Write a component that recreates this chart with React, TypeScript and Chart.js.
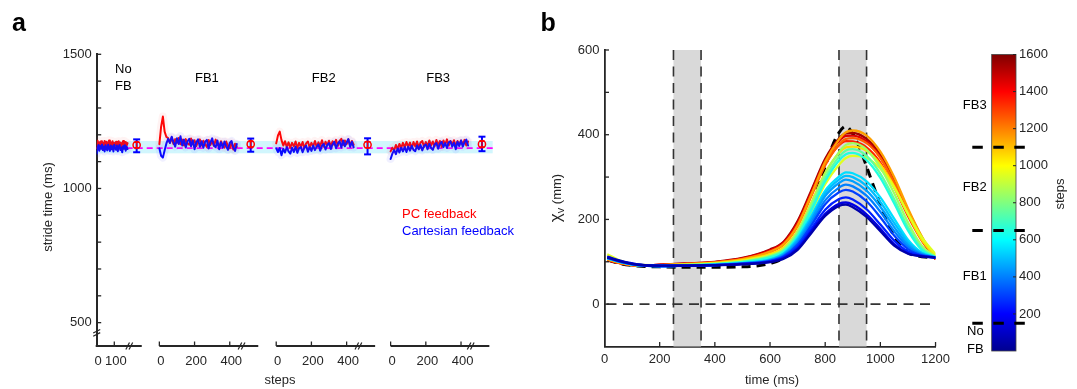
import React, { useEffect, useRef } from 'react';
import { Chart, registerables } from 'chart.js';

Chart.register(...registerables);

const FONT = '"Liberation Sans", Arial, Helvetica, sans-serif';
const AXIS = '#262626';

// ================= Panel a data =================
const STEPS_NOFB = [0, 5, 10, 15, 20, 25, 30, 35, 40, 45, 50, 55, 60, 65, 70, 75, 80, 85, 90, 95, 100, 105, 110, 115, 120, 125, 130, 135, 140, 145, 150, 155, 160, 165, 170, 175];
const STEPS_FB = [0, 10, 20, 30, 40, 50, 60, 70, 80, 90, 100, 110, 120, 130, 140, 150, 160, 170, 180, 190, 200, 210, 220, 230, 240, 250, 260, 270, 280, 290, 300, 310, 320, 330, 340, 350, 360, 370, 380, 390, 400, 410, 420, 430, 440];

const RED_NOFB = [1150, 1178, 1158, 1172, 1155, 1176, 1162, 1170, 1154, 1177, 1160, 1174, 1157, 1168, 1179, 1155, 1171, 1161, 1176, 1156, 1170, 1159, 1174, 1163, 1153, 1176, 1160, 1171, 1157, 1168, 1177, 1161, 1155, 1173, 1160, 1169];
const BLUE_NOFB = [1130, 1152, 1162, 1141, 1158, 1148, 1164, 1143, 1156, 1138, 1161, 1149, 1142, 1163, 1151, 1140, 1160, 1146, 1157, 1138, 1163, 1150, 1144, 1160, 1139, 1155, 1162, 1143, 1153, 1135, 1158, 1148, 1161, 1141, 1156, 1147];

const RED_FB1 = [1165, 1230, 1268, 1212, 1192, 1188, 1170, 1190, 1166, 1184, 1170, 1188, 1165, 1182, 1160, 1184, 1168, 1163, 1186, 1165, 1180, 1158, 1176, 1183, 1160, 1178, 1165, 1155, 1181, 1162, 1177, 1159, 1182, 1164, 1155, 1176, 1161, 1152, 1175, 1157, 1150, 1172, 1145, 1167, 1155];
const BLUE_FB1 = [1150, 1122, 1115, 1142, 1168, 1185, 1170, 1193, 1173, 1156, 1187, 1166, 1195, 1160, 1182, 1153, 1176, 1185, 1157, 1180, 1146, 1172, 1183, 1155, 1176, 1152, 1174, 1181, 1149, 1172, 1187, 1160, 1154, 1179, 1146, 1172, 1152, 1175, 1157, 1144, 1170, 1177, 1153, 1140, 1166];
const RED_FB2 = [1168, 1198, 1212, 1180, 1160, 1176, 1155, 1172, 1152, 1170, 1157, 1175, 1151, 1170, 1155, 1173, 1150, 1168, 1175, 1153, 1170, 1157, 1177, 1155, 1172, 1158, 1180, 1156, 1174, 1161, 1178, 1157, 1176, 1163, 1181, 1159, 1177, 1185, 1162, 1179, 1165, 1183, 1160, 1177, 1163];
const BLUE_FB2 = [1150, 1136, 1151, 1124, 1148, 1134, 1154, 1138, 1130, 1152, 1136, 1156, 1133, 1150, 1154, 1135, 1152, 1159, 1137, 1154, 1140, 1160, 1143, 1156, 1164, 1141, 1159, 1166, 1145, 1162, 1169, 1147, 1164, 1174, 1150, 1167, 1176, 1153, 1179, 1157, 1172, 1184, 1155, 1174, 1153];
const RED_FB3 = [1138, 1152, 1142, 1162, 1146, 1166, 1151, 1170, 1153, 1173, 1155, 1171, 1150, 1173, 1157, 1175, 1153, 1171, 1177, 1155, 1173, 1158, 1179, 1160, 1175, 1157, 1181, 1161, 1177, 1155, 1179, 1163, 1183, 1160, 1177, 1163, 1180, 1158, 1177, 1161, 1179, 1163, 1181, 1160, 1175];
const BLUE_FB3 = [1110, 1130, 1143, 1128, 1149, 1134, 1152, 1138, 1154, 1136, 1156, 1141, 1159, 1144, 1139, 1160, 1146, 1162, 1142, 1159, 1164, 1146, 1166, 1151, 1144, 1164, 1169, 1148, 1166, 1174, 1154, 1169, 1151, 1172, 1176, 1156, 1170, 1146, 1174, 1158, 1179, 1156, 1172, 1182, 1160];

// summary (mean ± error) at the end of every block
const MEAN_STEP = [227, 519, 519, 519];
const RED_MEAN = [1162, 1165, 1163, 1165];
const RED_ERR_LOW = [1152, 1155, 1152, 1155];
const RED_ERR_HIGH = [1172, 1175, 1174, 1176];
const BLUE_ERR_LOW = [1135, 1137, 1127, 1139];
const BLUE_ERR_HIGH = [1183, 1186, 1187, 1193];

const TARGET_STRIDE = 1150;
const TARGET_BAND = [1131, 1177];

const Y_TICKS_A = [500, 600, 700, 800, 900, 1000, 1100, 1200, 1300, 1400, 1500];
const Y_LABELS_A = [500, 1000, 1500];
const BLOCK_NAMES = ['FB1', 'FB2', 'FB3'];

// broken x axis: block start on a shared axis, length, tick marks, break position
const SEG_OFFSET = [0, 356, 1020, 1670];
const SEG_LENGTH = [256, 562, 562, 561];
const SEG_TICKS = [[0, 100], [0, 200, 400], [0, 200, 400], [0, 200, 400]];
const SEG_BREAK = [185, 467, 467, 455];

// ================= Panel b data =================
const TIME_MS = [10, 60, 120, 200, 300, 400, 500, 600, 650, 700, 750, 800, 850, 875, 900, 950, 1000, 1050, 1100, 1150, 1200];
const CURVE_STEPS = [50, 150, 250, 300, 400, 450, 500, 550, 650, 750, 850, 950, 1050, 1150, 1250, 1350, 1450, 1550];
const XV_50 = [110, 101, 93, 91, 91, 92, 94, 99, 107, 128, 168, 208, 232, 235, 229, 206, 172, 138, 119, 113, 110];
const XV_150 = [112, 102, 94, 91, 91, 92, 95, 100, 109, 131, 172, 213, 237, 240, 235, 212, 178, 142, 120, 113, 110];
const XV_250 = [111, 101, 93, 90, 91, 92, 95, 101, 111, 135, 178, 223, 248, 252, 247, 224, 188, 150, 124, 114, 110];
const XV_300 = [110, 100, 93, 90, 91, 92, 95, 102, 113, 140, 186, 236, 264, 270, 266, 243, 205, 162, 130, 115, 110];
const XV_400 = [109, 100, 92, 90, 91, 92, 96, 103, 115, 144, 192, 245, 275, 282, 278, 256, 218, 172, 135, 117, 110];
const XV_450 = [110, 100, 92, 90, 91, 93, 96, 104, 117, 148, 199, 255, 286, 294, 290, 268, 230, 182, 140, 118, 110];
const XV_500 = [109, 99, 92, 90, 91, 93, 97, 105, 119, 152, 204, 262, 294, 303, 300, 279, 241, 192, 146, 120, 110];
const XV_550 = [108, 99, 92, 90, 91, 93, 97, 106, 120, 155, 209, 268, 301, 311, 309, 290, 252, 202, 152, 122, 111];
const XV_650 = [108, 99, 92, 91, 92, 94, 99, 110, 124, 160, 222, 290, 339, 354, 357, 340, 298, 238, 174, 128, 110];
const XV_750 = [109, 99, 92, 91, 92, 95, 100, 112, 127, 165, 229, 298, 348, 363, 366, 350, 308, 248, 182, 132, 111];
const XV_850 = [110, 100, 92, 91, 93, 95, 101, 114, 130, 171, 237, 308, 359, 376, 380, 365, 323, 262, 193, 138, 112];
const XV_950 = [118, 102, 93, 92, 93, 96, 102, 115, 130, 164, 219, 283, 329, 345, 350, 345, 320, 275, 214, 158, 118];
const XV_1050 = [112, 100, 92, 92, 94, 97, 104, 118, 134, 173, 240, 310, 357, 370, 372, 362, 330, 278, 212, 152, 114];
const XV_1150 = [106, 97, 91, 92, 95, 98, 106, 124, 142, 186, 259, 336, 389, 406, 410, 398, 360, 300, 226, 160, 108];
const XV_1250 = [105, 97, 91, 92, 95, 98, 106, 123, 141, 184, 255, 328, 377, 390, 392, 380, 345, 287, 218, 155, 107];
const XV_1350 = [105, 96, 91, 92, 95, 99, 107, 125, 143, 188, 259, 330, 375, 385, 384, 370, 334, 276, 208, 150, 106];
const XV_1450 = [104, 96, 91, 93, 96, 99, 108, 127, 146, 192, 265, 338, 385, 397, 398, 384, 347, 288, 218, 156, 106];
const XV_1550 = [104, 96, 91, 93, 96, 100, 109, 129, 148, 196, 269, 343, 391, 403, 404, 390, 353, 293, 222, 158, 106];
const CURVE_VALUES = [XV_50, XV_150, XV_250, XV_300, XV_400, XV_450, XV_500, XV_550, XV_650, XV_750, XV_850, XV_950, XV_1050, XV_1150, XV_1250, XV_1350, XV_1450, XV_1550];

const TARGET_TIME = [10, 60, 120, 200, 300, 400, 500, 600, 650, 700, 750, 800, 825, 850, 875, 900, 925, 950, 1000, 1050, 1100, 1150, 1200];
const TARGET_XV = [104, 95, 90, 88, 87, 87, 88, 96, 110, 150, 232, 325, 372, 405, 420, 402, 368, 325, 235, 160, 122, 112, 110];

const SHADE_WINDOWS = [[250, 350], [850, 950]];
const X_TICKS_B = [0, 200, 400, 600, 800, 1000, 1200];
const Y_TICKS_B = [-100, 0, 100, 200, 300, 400, 500, 600];
const Y_LABELS_B = [0, 200, 400, 600];

// colorbar
const CB_TICKS = [200, 400, 600, 800, 1000, 1200, 1400, 1600];
const STEP_MAX = 1600;
const PHASE_BOUNDS = [150, 650, 1100];

// jet colormap stops [position, r, g, b]
const JET: number[][] = [
  [0, 0, 0, 143], [0.125, 0, 0, 255], [0.375, 0, 255, 255], [0.625, 255, 255, 0], [0.875, 255, 0, 0], [1, 128, 0, 0],
];
function jet(f: number): string {
  const t = Math.max(0, Math.min(1, f));
  for (let i = 1; i < JET.length; i++) {
    if (t <= JET[i][0]) {
      const a = JET[i - 1], b = JET[i];
      const u = (t - a[0]) / (b[0] - a[0]);
      const c = [1, 2, 3].map(k => Math.round(a[k] + (b[k] - a[k]) * u));
      return `rgb(${c[0]},${c[1]},${c[2]})`;
    }
  }
  return 'rgb(128,0,0)';
}

// ================= layout (page px) =================
const A_W = 540, H = 389;
const A_LEFT = 96.7, A_TOP = 54.3, A_RIGHT = 492.7, A_BOTTOM = 346, A_XMAX = 2250;
const A_YMIN = 413, A_YMAX = 1500, A_YBREAK = 462;
const B_X0 = 540, B_W = 415;
const B_LEFT = 64.5, B_RIGHT = 397.7, B_TOP = 50, B_BOTTOM = 346.5;
const C_X0 = 955, C_W = 122;
const C_LEFT = 36.7, C_RIGHT = 61, C_TOP = 54.5, C_BOTTOM = 351;

function line(ctx: CanvasRenderingContext2D, x1: number, y1: number, x2: number, y2: number) {
  ctx.beginPath();
  ctx.moveTo(x1, y1);
  ctx.lineTo(x2, y2);
  ctx.stroke();
}

const panelAPlugin = {
  id: 'panelA',
  beforeDatasetsDraw(chart: any) {
    const { ctx, scales: { x, y } } = chart;
    ctx.save();
    const x0 = x.getPixelForValue(0), x1 = x.getPixelForValue(A_XMAX);
    const yb0 = y.getPixelForValue(TARGET_BAND[1]), yb1 = y.getPixelForValue(TARGET_BAND[0]);
    ctx.fillStyle = 'rgba(0, 205, 245, 0.18)';
    ctx.fillRect(x0, yb0, x1 - x0, yb1 - yb0);
    ctx.strokeStyle = '#ff00ff';
    ctx.lineWidth = 1.8;
    ctx.setLineDash([6, 4]);
    const yt = y.getPixelForValue(TARGET_STRIDE);
    line(ctx, x0, yt, x1, yt);
    ctx.setLineDash([]);
    for (let i = 0; i < MEAN_STEP.length; i++) {
      const px = x.getPixelForValue(SEG_OFFSET[i] + MEAN_STEP[i]);
      ctx.strokeStyle = '#0000ff';
      ctx.lineWidth = 2;
      const bl = y.getPixelForValue(BLUE_ERR_LOW[i]), bh = y.getPixelForValue(BLUE_ERR_HIGH[i]);
      line(ctx, px, bl, px, bh);
      line(ctx, px - 3.5, bl, px + 3.5, bl);
      line(ctx, px - 3.5, bh, px + 3.5, bh);
      ctx.strokeStyle = '#ff0000';
      ctx.lineWidth = 1.4;
      const rl = y.getPixelForValue(RED_ERR_LOW[i]), rh = y.getPixelForValue(RED_ERR_HIGH[i]);
      line(ctx, px, rl, px, rh);
      line(ctx, px - 3, rl, px + 3, rl);
      line(ctx, px - 3, rh, px + 3, rh);
    }
    ctx.restore();
  },
  afterDraw(chart: any) {
    const { ctx, chartArea: ca, scales: { x, y } } = chart;
    ctx.save();
    ctx.strokeStyle = AXIS;
    ctx.fillStyle = AXIS;
    // inward y ticks
    ctx.lineWidth = 1.3;
    for (const v of Y_TICKS_A) {
      const py = y.getPixelForValue(v);
      line(ctx, ca.left, py, ca.left + 4.5, py);
    }
    // y break
    const ybk = y.getPixelForValue(A_YBREAK);
    ctx.lineWidth = 1.2;
    for (const d of [-1.6, 1.6]) line(ctx, ca.left - 3.5, ybk + d + 1.8, ca.left + 3.5, ybk + d - 1.8);
    // broken x axis
    ctx.font = `13px ${FONT}`;
    ctx.textAlign = 'center';
    ctx.textBaseline = 'alphabetic';
    for (let i = 0; i < SEG_OFFSET.length; i++) {
      const xs = x.getPixelForValue(SEG_OFFSET[i]);
      const xe = x.getPixelForValue(SEG_OFFSET[i] + SEG_LENGTH[i]);
      ctx.lineWidth = 2;
      line(ctx, xs - (i === 0 ? 1 : 0), ca.bottom, xe, ca.bottom);
      ctx.lineWidth = 1.3;
      for (const t of SEG_TICKS[i]) {
        const px = x.getPixelForValue(SEG_OFFSET[i] + t);
        if (!(i === 0 && t === 0)) line(ctx, px, ca.bottom, px, ca.bottom - 4.5);
        ctx.fillText(String(t), px + 1.5, 365);
      }
      const bx = x.getPixelForValue(SEG_OFFSET[i] + SEG_BREAK[i]);
      ctx.lineWidth = 1.2;
      for (const d of [-1.6, 1.6]) line(ctx, bx + d - 1.8, ca.bottom + 3.5, bx + d + 1.8, ca.bottom - 3.5);
    }
    ctx.fillText('steps', 280, 384);
    // y title
    ctx.save();
    ctx.translate(48, 207);
    ctx.rotate(-Math.PI / 2);
    ctx.textBaseline = 'middle';
    ctx.fillText('stride time (ms)', 0, 0);
    ctx.restore();
    // block names
    ctx.fillStyle = '#000';
    ctx.textAlign = 'left';
    ctx.fillText('No', 115, 73);
    ctx.fillText('FB', 115, 90);
    ctx.textAlign = 'center';
    BLOCK_NAMES.forEach((n, k) => ctx.fillText(n, x.getPixelForValue(SEG_OFFSET[k + 1] + 270), 82));
    // legend
    ctx.textAlign = 'left';
    ctx.fillStyle = '#ff0000';
    ctx.fillText('PC feedback', 402, 217.5);
    ctx.fillStyle = '#0000ff';
    ctx.fillText('Cartesian feedback', 402, 234.5);
    // panel letter
    ctx.fillStyle = '#000';
    ctx.font = `bold 25px ${FONT}`;
    ctx.fillText('a', 12, 31);
    ctx.restore();
  },
};

const panelBPlugin = {
  id: 'panelB',
  beforeDatasetsDraw(chart: any) {
    const { ctx, chartArea: ca, scales: { x, y } } = chart;
    ctx.save();
    ctx.fillStyle = '#d9d9d9';
    for (const [a, b] of SHADE_WINDOWS) {
      const xa = x.getPixelForValue(a), xb = x.getPixelForValue(b);
      ctx.fillRect(xa, ca.top, xb - xa, ca.bottom - ca.top);
    }
    ctx.strokeStyle = '#333';
    ctx.lineWidth = 1.6;
    ctx.setLineDash([10, 6.5]);
    for (const [a, b] of SHADE_WINDOWS) {
      for (const v of [a, b]) {
        const px = x.getPixelForValue(v);
        line(ctx, px, ca.top, px, ca.bottom);
      }
    }
    const y0 = y.getPixelForValue(0);
    line(ctx, ca.left + 2, y0, x.getPixelForValue(1200), y0);
    ctx.restore();
  },
  afterDraw(chart: any) {
    const { ctx, chartArea: ca, scales: { x, y } } = chart;
    ctx.save();
    ctx.strokeStyle = AXIS;
    ctx.fillStyle = AXIS;
    ctx.lineWidth = 1.3;
    for (const v of X_TICKS_B) {
      const px = x.getPixelForValue(v);
      if (v !== 0) line(ctx, px, ca.bottom, px, ca.bottom - 4.5);
    }
    for (const v of Y_TICKS_B) {
      const py = y.getPixelForValue(v);
      if (v !== -100) line(ctx, ca.left, py, ca.left + 4.5, py);
    }
    ctx.font = `13px ${FONT}`;
    ctx.textAlign = 'center';
    ctx.textBaseline = 'alphabetic';
    ctx.fillText('time (ms)', 232, 384);
    // y title: χ_v (mm)
    ctx.save();
    ctx.translate(16, 198);
    ctx.rotate(-Math.PI / 2);
    ctx.textAlign = 'left';
    const f1 = `17px ${FONT}`, f2 = `11px ${FONT}`, f3 = `13px ${FONT}`;
    ctx.font = f1; const w1 = ctx.measureText('χ').width;
    ctx.font = f2; const w2 = ctx.measureText('v').width;
    ctx.font = f3; const w3 = ctx.measureText(' (mm)').width;
    let sx = -(w1 + w2 + w3) / 2;
    ctx.font = f1; ctx.fillText('χ', sx, 4.5); sx += w1;
    ctx.font = f2; ctx.fillText('v', sx, 8); sx += w2;
    ctx.font = f3; ctx.fillText(' (mm)', sx, 4.5);
    ctx.restore();
    ctx.fillStyle = '#000';
    ctx.textAlign = 'left';
    ctx.font = `bold 25px ${FONT}`;
    ctx.fillText('b', 0.5, 31);
    ctx.restore();
  },
};

const colorbarPlugin = {
  id: 'colorbar',
  beforeDatasetsDraw(chart: any) {
    const { ctx, chartArea: ca } = chart;
    ctx.save();
    const g = ctx.createLinearGradient(0, ca.bottom, 0, ca.top);
    JET.forEach(s => g.addColorStop(s[0], `rgb(${s[1]},${s[2]},${s[3]})`));
    ctx.fillStyle = g;
    ctx.fillRect(ca.left, ca.top, ca.right - ca.left, ca.bottom - ca.top);
    ctx.restore();
  },
  afterDraw(chart: any) {
    const { ctx, chartArea: ca, scales: { y } } = chart;
    ctx.save();
    ctx.strokeStyle = '#444';
    ctx.lineWidth = 0.8;
    ctx.strokeRect(ca.left, ca.top, ca.right - ca.left, ca.bottom - ca.top);
    ctx.strokeStyle = AXIS;
    ctx.lineWidth = 1;
    for (const v of CB_TICKS) {
      const py = y.getPixelForValue(v);
      line(ctx, ca.right - 3, py, ca.right, py);
    }
    ctx.strokeStyle = '#000';
    ctx.lineWidth = 3;
    ctx.setLineDash([10.5, 10.5]);
    for (const b of PHASE_BOUNDS) {
      const py = y.getPixelForValue(b);
      line(ctx, 17.3, py, 70.5, py);
    }
    ctx.setLineDash([]);
    ctx.fillStyle = '#000';
    ctx.font = `13px ${FONT}`;
    ctx.textBaseline = 'alphabetic';
    ctx.textAlign = 'right';
    ctx.fillText('FB3', 31.7, 108.5);
    ctx.fillText('FB2', 31.7, 190.7);
    ctx.fillText('FB1', 31.7, 280);
    ctx.textAlign = 'left';
    ctx.fillText('No', 12, 335);
    ctx.fillText('FB', 12, 353.3);
    ctx.fillStyle = AXIS;
    ctx.save();
    ctx.translate(105, 194);
    ctx.rotate(-Math.PI / 2);
    ctx.textAlign = 'center';
    ctx.textBaseline = 'middle';
    ctx.fillText('steps', 0, 0);
    ctx.restore();
    ctx.restore();
  },
};

const tickFont = { size: 13, family: FONT };
const plainLabel = (v: any) => String(v);

function makePanelA(canvas: HTMLCanvasElement) {
  const segs = [
    { steps: STEPS_NOFB, red: RED_NOFB, blue: BLUE_NOFB },
    { steps: STEPS_FB, red: RED_FB1, blue: BLUE_FB1 },
    { steps: STEPS_FB, red: RED_FB2, blue: BLUE_FB2 },
    { steps: STEPS_FB, red: RED_FB3, blue: BLUE_FB3 },
  ];
  const pts = (i: number, vals: number[]) => segs[i].steps.map((s, k) => ({ x: SEG_OFFSET[i] + s, y: vals[k] }));
  const ds = (data: any[], color: string, w: number) => ({
    data, borderColor: color, borderWidth: w, pointRadius: 0, fill: false, tension: 0,
    borderJoinStyle: 'round', borderCapStyle: 'round',
  });
  const datasets: any[] = [];
  segs.forEach((s, i) => {
    datasets.push(ds(pts(i, s.blue), 'rgba(90,90,255,0.09)', 8));
    datasets.push(ds(pts(i, s.red), 'rgba(255,90,90,0.07)', 8));
  });
  segs.forEach((s, i) => datasets.push(ds(pts(i, s.blue), '#0000ff', 2)));
  segs.forEach((s, i) => datasets.push(ds(pts(i, s.red), '#ff0000', 2)));
  datasets.push({
    data: MEAN_STEP.map((s, i) => ({ x: SEG_OFFSET[i] + s, y: RED_MEAN[i] })),
    showLine: false, pointRadius: 3.6, pointBorderWidth: 1.5, pointBorderColor: '#ff0000',
    pointBackgroundColor: 'rgba(255,255,255,0)', clip: false,
  });
  return new Chart(canvas, {
    type: 'line',
    data: { datasets },
    options: {
      responsive: false,
      animation: false,
      events: [],
      layout: { padding: { left: 0, top: A_TOP, right: A_W - A_RIGHT, bottom: H - A_BOTTOM } },
      plugins: { legend: { display: false }, tooltip: { enabled: false } },
      scales: {
        x: { type: 'linear', display: false, min: 0, max: A_XMAX },
        y: {
          type: 'linear', min: A_YMIN, max: A_YMAX,
          afterBuildTicks: (ax: any) => { ax.ticks = Y_TICKS_A.map(v => ({ value: v })); },
          afterFit: (s: any) => { s.width = A_LEFT; },
          grid: { display: false, drawTicks: false },
          border: { display: true, color: AXIS, width: 2 },
          ticks: {
            autoSkip: false, padding: 5, color: AXIS, font: tickFont,
            callback: (v: any) => (Y_LABELS_A.includes(Number(v)) ? String(v) : ''),
          },
        },
      },
    } as any,
    plugins: [panelAPlugin],
  });
}

function makePanelB(canvas: HTMLCanvasElement) {
  const datasets: any[] = CURVE_STEPS.map((st, i) => ({
    data: TIME_MS.map((t, k) => ({ x: t, y: CURVE_VALUES[i][k] })),
    borderColor: jet(st / STEP_MAX), borderWidth: 2.3, pointRadius: 0, fill: false,
    cubicInterpolationMode: 'monotone',
  }));
  datasets.push({
    data: TARGET_TIME.map((t, k) => ({ x: t, y: TARGET_XV[k] })),
    borderColor: '#000', borderWidth: 3, borderDash: [9, 6], pointRadius: 0, fill: false,
    cubicInterpolationMode: 'monotone',
  });
  return new Chart(canvas, {
    type: 'line',
    data: { datasets },
    options: {
      responsive: false,
      animation: false,
      events: [],
      layout: { padding: { left: 0, top: B_TOP, right: B_W - B_RIGHT, bottom: 0 } },
      plugins: { legend: { display: false }, tooltip: { enabled: false } },
      scales: {
        x: {
          type: 'linear', min: 0, max: 1200,
          afterBuildTicks: (ax: any) => { ax.ticks = X_TICKS_B.map(v => ({ value: v })); },
          afterFit: (s: any) => { s.height = H - B_BOTTOM; },
          grid: { display: false, drawTicks: false },
          border: { display: true, color: AXIS, width: 1.8 },
          ticks: { autoSkip: false, maxRotation: 0, padding: 5, color: AXIS, font: tickFont, callback: plainLabel },
        },
        y: {
          type: 'linear', min: -100, max: 600,
          afterBuildTicks: (ax: any) => { ax.ticks = Y_TICKS_B.map(v => ({ value: v })); },
          afterFit: (s: any) => { s.width = B_LEFT; },
          grid: { display: false, drawTicks: false },
          border: { display: true, color: AXIS, width: 1.8 },
          ticks: {
            autoSkip: false, padding: 5, color: AXIS, font: tickFont,
            callback: (v: any) => (Y_LABELS_B.includes(Number(v)) ? String(v) : ''),
          },
        },
      },
    } as any,
    plugins: [panelBPlugin],
  });
}

function makeColorbar(canvas: HTMLCanvasElement) {
  return new Chart(canvas, {
    type: 'line',
    data: { datasets: [] },
    options: {
      responsive: false,
      animation: false,
      events: [],
      layout: { padding: { left: C_LEFT, top: C_TOP, right: 0, bottom: H - C_BOTTOM } },
      plugins: { legend: { display: false }, tooltip: { enabled: false } },
      scales: {
        x: { type: 'linear', display: false, min: 0, max: 1 },
        y: {
          type: 'linear', position: 'right', min: 0, max: STEP_MAX,
          afterBuildTicks: (ax: any) => { ax.ticks = CB_TICKS.map(v => ({ value: v })); },
          afterFit: (s: any) => { s.width = C_W - C_RIGHT; },
          grid: { display: false, drawTicks: false },
          border: { display: false },
          ticks: { autoSkip: false, padding: 3, color: AXIS, font: tickFont, callback: plainLabel },
        },
      },
    } as any,
    plugins: [colorbarPlugin],
  });
}

export default function App() {
  const aRef = useRef<HTMLCanvasElement>(null);
  const bRef = useRef<HTMLCanvasElement>(null);
  const cRef = useRef<HTMLCanvasElement>(null);
  useEffect(() => {
    Chart.defaults.font.family = FONT;
    const charts = [makePanelA(aRef.current!), makePanelB(bRef.current!), makeColorbar(cRef.current!)];
    return () => charts.forEach(c => c.destroy());
  }, []);
  return (
    <div style={{ position: 'fixed', left: 0, top: 0, width: 1077, height: H, background: '#fff', overflow: 'hidden' }}>
      <canvas ref={aRef} width={A_W} height={H} style={{ position: 'absolute', left: 0, top: 0, width: A_W, height: H }} />
      <canvas ref={bRef} width={B_W} height={H} style={{ position: 'absolute', left: B_X0, top: 0, width: B_W, height: H }} />
      <canvas ref={cRef} width={C_W} height={H} style={{ position: 'absolute', left: C_X0, top: 0, width: C_W, height: H }} />
    </div>
  );
}
